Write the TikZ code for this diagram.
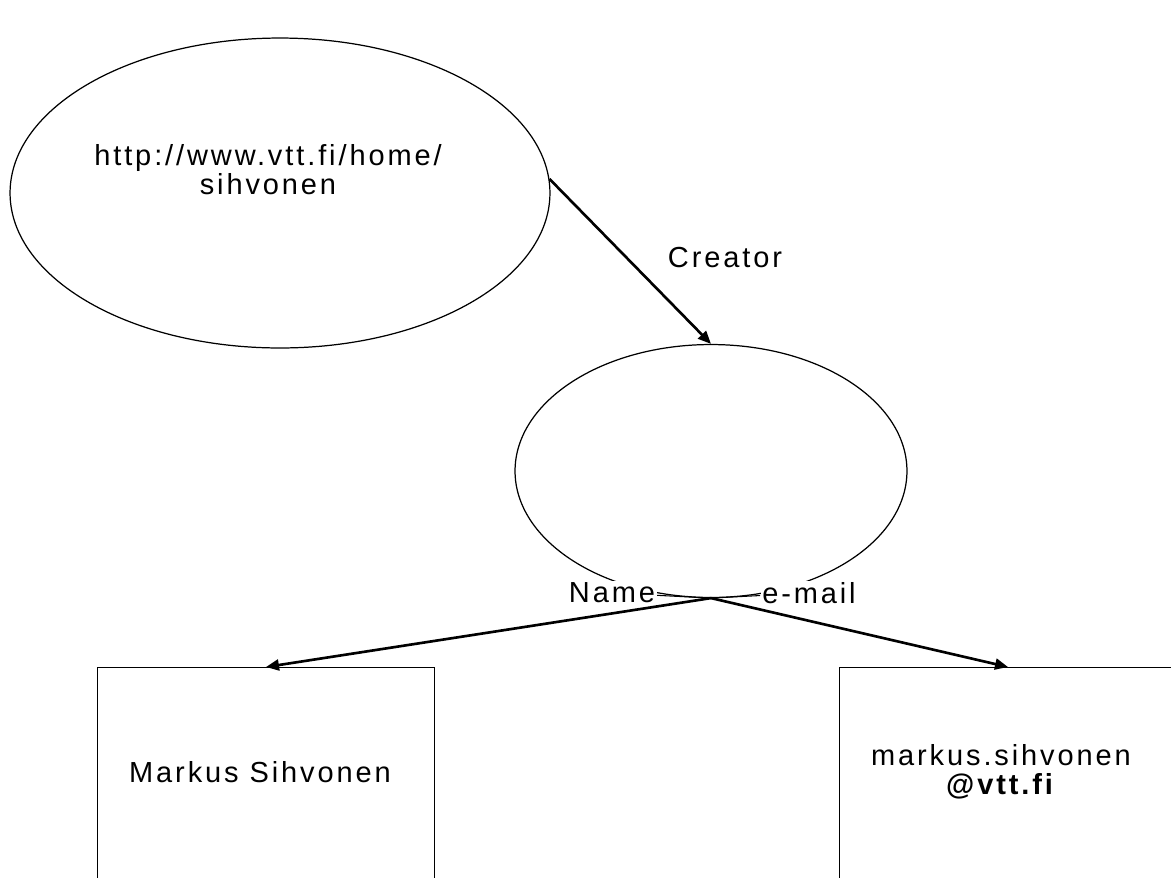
\documentclass[tikz,border=0pt]{standalone}
\usepackage{fontspec}
\setmainfont[LetterSpace=10]{Liberation Sans}
\usetikzlibrary{shapes.geometric,arrows.meta}

\begin{document}
\begin{tikzpicture}[x=0.02cm, y=-0.02cm,
	every node/.style={font=\fontsize{16.5pt}{12.5pt}\selectfont},
	blob/.style={draw, ellipse, inner sep=0pt, line width=0.7pt},
	box/.style={draw, rectangle, line width=0.8pt, minimum width=6.74cm, minimum height=5cm, anchor=north},
	link/.style={line width=1.5pt, -{Triangle[length=2.6mm, width=2.2mm]}}]
	\clip (0,0) rectangle (1171,877);
	% resource and blank node
	\node[blob, minimum width=10.8cm, minimum height=6.2cm] (page) at (280,193) {};
	\node[align=center] (url) at (268,170) {http://www.vtt.fi/home/\\sihvonen};
	\node[blob, minimum width=7.84cm, minimum height=5.06cm] (person) at (711,471) {};
	% literal values
	\node[box] (fullname) at (266,667) {};
	\node (fullnametxt) at (260,772) {Markus Sihvonen};
	\node[box] (mailbox) at (1008,667) {};
	\node[align=center, font=\fontsize{16.5pt}{16.4pt}\selectfont] (mailtxt) at (1001,772) {markus.sihvonen\\\textbf{@vtt.fi}};
	% properties
	\draw[link] (page.3) -- (person.north);
	\node (creator) at (725,258) {Creator};
	\draw[link] (person.south) -- (fullname.north);
	\draw[link] (person.south) -- (mailbox.north);
	\node[fill=white, inner sep=1pt] (namelbl) at (612,593) {Name};
	\node[fill=white, inner sep=1pt] (maillbl) at (809,593) {e-mail};
	\draw[line width=0.6pt] (namelbl) -- (person.south) -- (maillbl);
\end{tikzpicture}
\end{document}
